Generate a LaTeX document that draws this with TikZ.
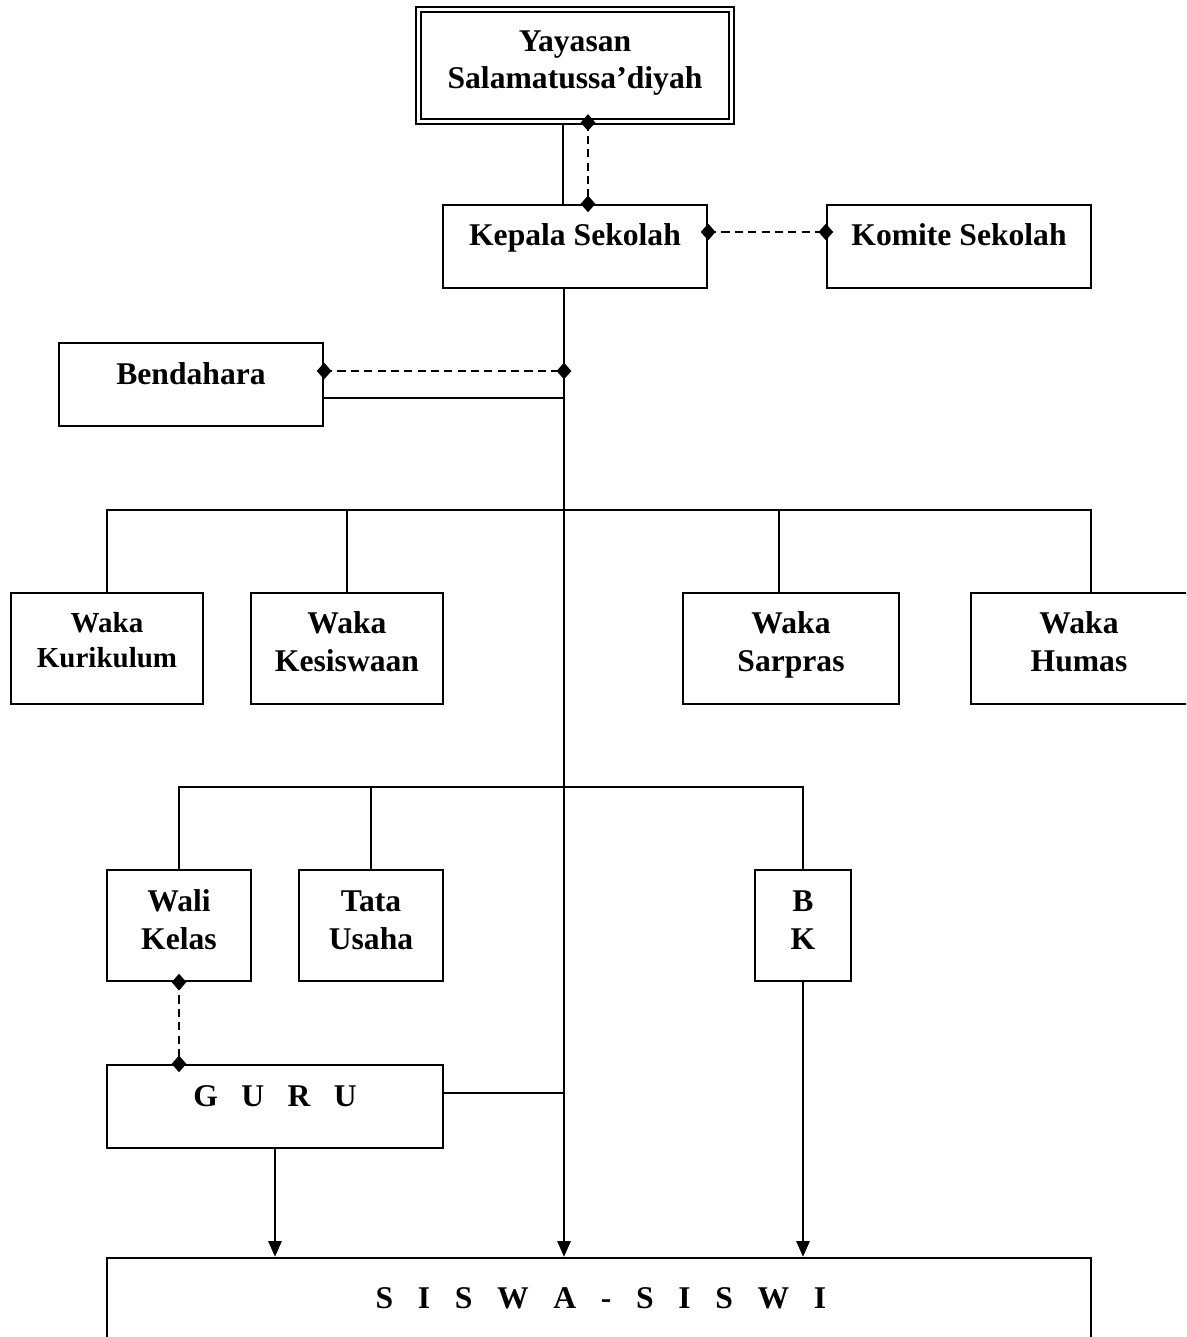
\documentclass[tikz,border=0pt]{standalone}
\usepackage{fontspec}
\setmainfont{Liberation Serif}
\usetikzlibrary{shapes.geometric,arrows.meta}
\begin{document}
\begin{tikzpicture}[x=0.02cm,y=-0.02cm,
  box/.style={draw,line width=1.3pt,inner sep=0},
  txt/.style={font=\fontsize{18}{21.5}\selectfont\bfseries,align=center,inner sep=0},
  stxt/.style={font=\fontsize{16.5}{19.5}\selectfont\bfseries,align=center,inner sep=0},
  ln/.style={line width=1.3pt},
  dln/.style={line width=1.3pt,dash pattern=on 4.6pt off 3pt},
  arr/.style={line width=1.3pt,-{Triangle[length=9pt,width=7.5pt]}},
  dia/.style={diamond,fill=black,draw=none,inner sep=0,minimum width=0.3cm,minimum height=0.34cm}]
\useasboundingbox (0,0) rectangle (1186,1337);
\clip (0,0) rectangle (1186,1337);

% boxes
\node[draw,double,line width=1.2pt,double distance=1.6pt,inner sep=0,minimum width=6.26cm,minimum height=2.24cm] (yay) at (575,65.5) {};
\node[box,minimum width=5.28cm,minimum height=1.66cm] (kep) at (575,246.5) {};
\node[box,minimum width=5.28cm,minimum height=1.66cm] (kom) at (959,246.5) {};
\node[box,minimum width=5.28cm,minimum height=1.66cm] (ben) at (191,384.5) {};
\node[box,minimum width=3.84cm,minimum height=2.22cm] (wk1) at (107,648.5) {};
\node[box,minimum width=3.84cm,minimum height=2.22cm] (wk2) at (347,648.5) {};
\node[box,minimum width=4.32cm,minimum height=2.22cm] (wk3) at (791,648.5) {};
\node[box,minimum width=4.6cm,minimum height=2.22cm] (wk4) at (1086,648.5) {};
\node[box,minimum width=2.88cm,minimum height=2.22cm] (wali) at (179,925.5) {};
\node[box,minimum width=2.88cm,minimum height=2.22cm] (tu) at (371,925.5) {};
\node[box,minimum width=1.92cm,minimum height=2.22cm] (bk) at (803,925.5) {};
\node[box,minimum width=6.72cm,minimum height=1.66cm] (guru) at (275,1106.5) {};
\node[box,minimum width=19.68cm,minimum height=2.84cm] (siswa) at (599,1329) {};

% texts
\node[txt] (yayT) at (575,63) {Yayasan\\Salamatussa’diyah};
\node[txt,anchor=base] (kepT) at (575,246) {Kepala Sekolah};
\node[txt,anchor=base] (komT) at (959,246) {Komite Sekolah};
\node[txt,anchor=base] (benT) at (191,385) {Bendahara};
\node[stxt] (wk1T) at (107,640) {Waka\\Kurikulum};
\node[txt] (wk2T) at (347,642) {Waka\\Kesiswaan};
\node[txt] (wk3T) at (791,645) {Waka\\Sarpras};
\node[txt] (wk4T) at (1079,642) {Waka\\Humas};
\node[txt] (waliT) at (179,920) {Wali\\Kelas};
\node[txt] (tuT) at (371,920) {Tata\\Usaha};
\node[txt] (bkT) at (803,920) {B\\K};
\node[txt,anchor=base] (guruT) at (275,1106) {G\hspace{0.74em}U\hspace{0.74em}R\hspace{0.74em}U};
\node[txt,anchor=base] (siswaT) at (601,1308) {S\hspace{0.78em}I\hspace{0.78em}S\hspace{0.78em}W\hspace{0.78em}A\hspace{0.78em}-\hspace{0.78em}S\hspace{0.78em}I\hspace{0.78em}S\hspace{0.78em}W\hspace{0.78em}I};

% helper coordinates
\coordinate (xs) at (563,0);
\coordinate (xd) at (588,0);
\coordinate (yk) at (0,232);
\coordinate (t1) at (564,371);
\coordinate (t2) at (564,398);
\coordinate (b1) at (564,510);
\coordinate (b2) at (564,787);
\coordinate (t3) at (564,1093);
\coordinate (d3) at (779,0);
\coordinate (d4) at (1091,0);

% Yayasan - Kepala
\draw[ln] (yay.south -| xs) -- (kep.north -| xs);
\draw[dln] (yay.south -| xd) -- (kep.north -| xd);
\node[dia] (dy1) at (yay.south -| xd) {};
\node[dia] (dy2) at (kep.north -| xd) {};

% Kepala - Komite
\draw[dln] (kep.east |- yk) -- (kom.west |- yk);
\node[dia] (dk1) at (kep.east |- yk) {};
\node[dia] (dk2) at (kom.west |- yk) {};

% trunk
\draw[arr] (kep.south -| t1) -- (siswa.north -| t1);

% Bendahara
\draw[dln] (ben.east |- t1) -- (t1);
\node[dia] (db1) at (ben.east |- t1) {};
\node[dia] (db2) at (t1) {};
\draw[ln] (ben.east |- t2) -- (t2);

% Waka bus
\draw[ln] (wk1.north) -- (wk1.north |- b1) -- (d4 |- b1) -- (d4 |- wk4.north);
\draw[ln] (wk2.north) -- (wk2.north |- b1);
\draw[ln] (d3 |- wk3.north) -- (d3 |- b1);

% second bus
\draw[ln] (wali.north) -- (wali.north |- b2) -- (bk.north |- b2) -- (bk.north);
\draw[ln] (tu.north) -- (tu.north |- b2);

% Wali - Guru
\draw[dln] (wali.south) -- (guru.north -| wali.south);
\node[dia] (dw1) at (wali.south) {};
\node[dia] (dw2) at (guru.north -| wali.south) {};

% Guru - trunk
\draw[ln] (guru.east |- t3) -- (t3);

% arrows to siswa
\draw[arr] (guru.south) -- (siswa.north -| guru.south);
\draw[arr] (bk.south) -- (siswa.north -| bk.south);
\end{tikzpicture}
\end{document}
